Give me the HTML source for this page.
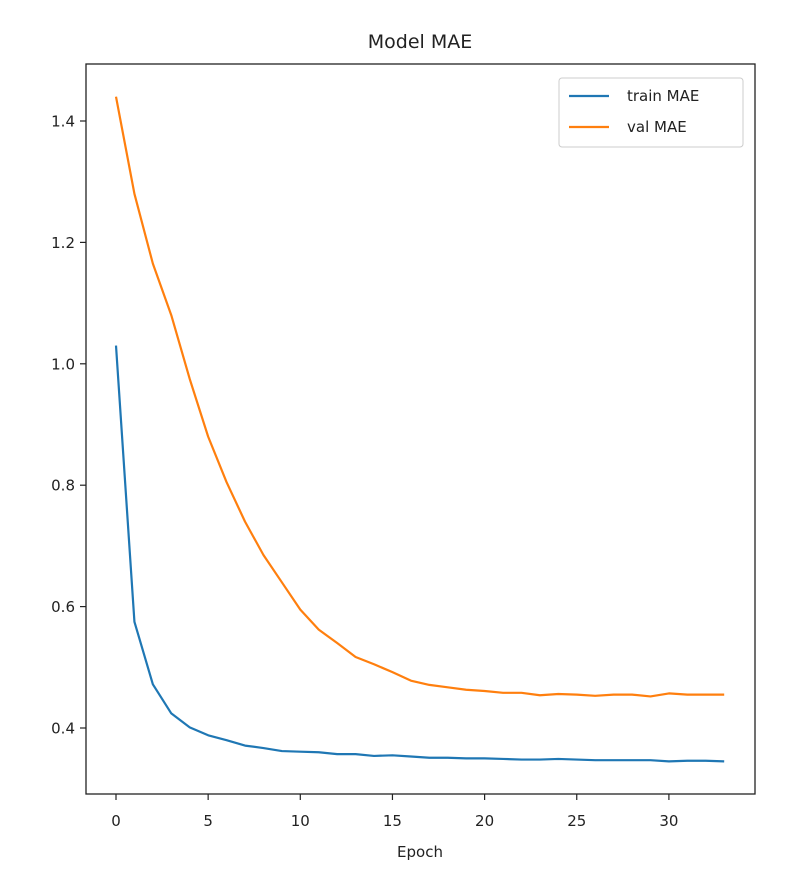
<!DOCTYPE html>
<html><head><meta charset="utf-8"><style>body{margin:0;background:#fff}svg{display:block;font-family:"DejaVu Sans","Liberation Sans",sans-serif}</style></head>
<body>
<svg id="c" width="800" height="884">
<rect x="0" y="0" width="800" height="884" fill="#fff"/>
<text x="420" y="48" font-size="19" text-anchor="middle" fill="#222">Model MAE</text>
<g id="ax"></g>
<rect x="86" y="64" width="669" height="730" fill="none" stroke="#222" stroke-width="1.3"/>
<text x="420" y="857" font-size="15" text-anchor="middle" fill="#222">Epoch</text>
<g>
<rect x="559" y="78" width="184" height="69" rx="3" fill="#fff" stroke="#ccc"/>
<line x1="569" y1="96" x2="609" y2="96" stroke="#1f77b4" stroke-width="2.2"/>
<text x="627" y="101" font-size="15" fill="#222">train MAE</text>
<line x1="569" y1="127" x2="609" y2="127" stroke="#ff7f0e" stroke-width="2.2"/>
<text x="627" y="132" font-size="15" fill="#222">val MAE</text>
</g>
</svg>
<script>
const epochs=[...Array(34).keys()];
const trainMAE=[1.03,0.575,0.472,0.424,0.401,0.388,0.380,0.371,0.367,0.362,0.361,0.360,0.357,0.357,0.354,0.355,0.353,0.351,0.351,0.350,0.350,0.349,0.348,0.348,0.349,0.348,0.347,0.347,0.347,0.347,0.345,0.346,0.346,0.345];
const valMAE=[1.44,1.28,1.165,1.08,0.975,0.88,0.805,0.74,0.685,0.64,0.595,0.562,0.54,0.517,0.505,0.492,0.478,0.471,0.467,0.463,0.461,0.458,0.458,0.454,0.456,0.455,0.453,0.455,0.455,0.452,0.457,0.455,0.455,0.455];
const xTicks=[0,5,10,15,20,25,30];
const yTicks=[0.4,0.6,0.8,1.0,1.2,1.4];
const X=v=>116+v*18.43, Y=v=>121+(1.4-v)*607;
const NS="http://www.w3.org/2000/svg", ax=document.getElementById('ax');
function mk(t,a){const e=document.createElementNS(NS,t);for(const k in a)e.setAttribute(k,a[k]);ax.appendChild(e);return e;}
xTicks.forEach(t=>{
 const l=mk('line',{x1:X(t),x2:X(t),y1:794,y2:800,stroke:'#222','stroke-width':1.2});
 
 
 const s=mk('text',{x:X(t),y:826,'font-size':15,'text-anchor':'middle',fill:'#222'});s.textContent=t;
 
 
});
yTicks.forEach(t=>{
 const l=mk('line',{x1:80,x2:86,y1:Y(t),y2:Y(t),stroke:'#222','stroke-width':1.2});
 
 
 const s=mk('text',{x:75,y:Y(t)+5.5,'font-size':15,'text-anchor':'end',fill:'#222'});s.textContent=t.toFixed(1);
 
 
});
[[trainMAE,'#1f77b4','train-mae-line'],[valMAE,'#ff7f0e','val-mae-line']].forEach(([d,c,n])=>{
 const p=mk('polyline',{points:d.map((v,i)=>X(epochs[i])+','+Y(v)).join(' '),fill:'none',stroke:c,'stroke-width':2.2,'stroke-linejoin':'round'});
 
 
});
</script>
</body></html>
